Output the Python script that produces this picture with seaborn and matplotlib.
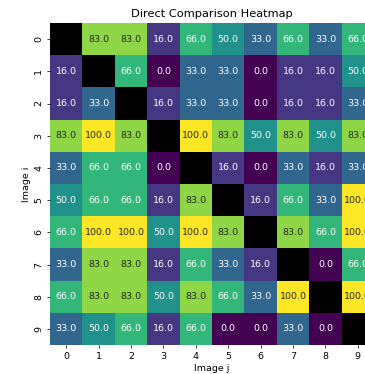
import numpy as np
import pandas as pd
import matplotlib
matplotlib.use("Agg")
import matplotlib.pyplot as plt
import seaborn as sns

labels = [str(k) for k in range(10)]
nan = np.nan

row_0 = [nan, 83, 83, 16, 66, 50, 33, 66, 33, 66]
row_1 = [16, nan, 66, 0, 33, 33, 0, 16, 16, 50]
row_2 = [16, 33, nan, 16, 33, 33, 0, 16, 16, 33]
row_3 = [83, 100, 83, nan, 100, 83, 50, 83, 50, 83]
row_4 = [33, 66, 66, 0, nan, 16, 0, 33, 16, 33]
row_5 = [50, 66, 66, 16, 83, nan, 16, 66, 33, 100]
row_6 = [66, 100, 100, 50, 100, 83, nan, 83, 66, 100]
row_7 = [33, 83, 83, 16, 66, 33, 16, nan, 0, 66]
row_8 = [66, 83, 83, 50, 83, 66, 33, 100, nan, 100]
row_9 = [33, 50, 66, 16, 66, 0, 0, 33, 0, nan]

matrix = pd.DataFrame(
    [row_0, row_1, row_2, row_3, row_4, row_5, row_6, row_7, row_8, row_9],
    index=labels, columns=labels, dtype=float,
)

W, H, DPI = 365, 374, 68
fig = plt.figure(figsize=(W / DPI, H / DPI), dpi=DPI)
ax = fig.add_axes([50 / W, 29 / H, 324 / W, 322 / H])
ax.set_facecolor("black")

sns.heatmap(matrix, ax=ax, cmap="viridis", vmin=0, vmax=100,
            annot=True, fmt=".1f", cbar=False)

ax.set_title("Direct Comparison Heatmap")
ax.set_xlabel("Image j")
ax.set_ylabel("Image i")
plt.setp(ax.get_yticklabels(), rotation=90, va="center")
plt.setp(ax.get_xticklabels(), rotation=0)

fig.savefig("out.png", dpi=DPI)
